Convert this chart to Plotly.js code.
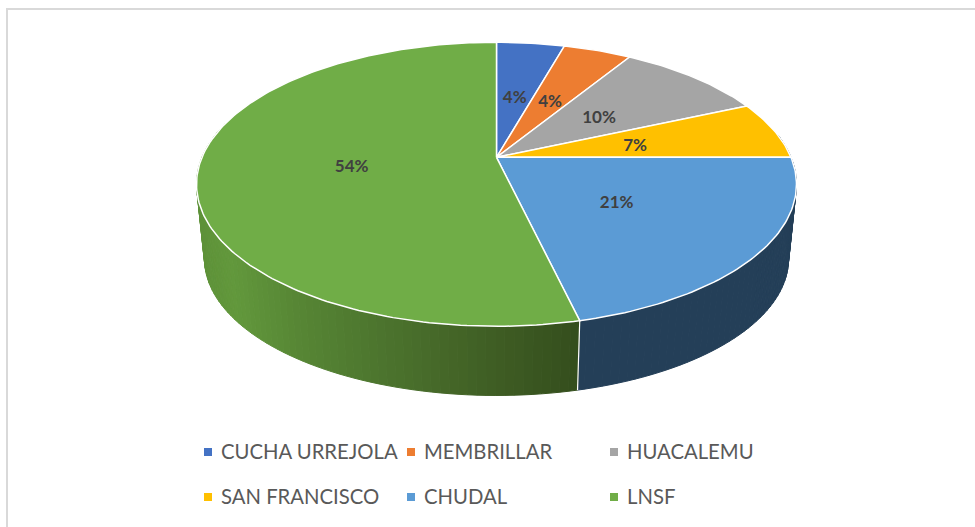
<!DOCTYPE html>
<html><head><meta charset="utf-8">
<script src="https://cdn.plot.ly/plotly-3.0.1.min.js"></script>
<style>html,body{margin:0;padding:0;background:#fff}</style></head>
<body><div id="chart" style="width:975px;height:527px"></div>
<script>
// data
var categories = ["CUCHA URREJOLA","MEMBRILLAR","HUACALEMU","SAN FRANCISCO","CHUDAL","LNSF"];
var percentages = [4.4,4.4,9.6,6.6,21.3,53.7];
var sliceColors = ["#4472c4","#ed7d31","#a5a5a5","#ffc000","#5b9bd5","#70ad47"];
var sideStops = [
  {x:197,c:[94,146,57]},{x:230,c:[98,152,60]},{x:300,c:[86,133,52]},
  {x:400,c:[74,112,44]},{x:500,c:[62,92,35]},{x:579,c:[52,78,29]}
];
var sideBlue = "#243f58";
// layout of the projected pie
var cx=496.5, topY=157.3, k=0.19, A=294.5, B=136.9;
var botY=233, A2=286.7, B2=131.6;
var LABEL_R=0.49, labelDy=2.5;
var legendX=[208,411,614], legendY=[452,497], legendTextOffset=13, legendDy=2;

function proj(theta,r,a,b,y0){
  var t=theta*Math.PI/180, sx=r*Math.sin(t), sy=r*Math.cos(t), d=1+k*sy;
  return [cx+a*sx/d, y0-b*sy/d];
}
function top_(t,r){return proj(t,r===undefined?1:r,A,B,topY);}
function bot_(t){return proj(t,1,A2,B2,botY);}
function sideColor(x){
  for(var i=0;i<sideStops.length-1;i++){
    var p=sideStops[i],q=sideStops[i+1];
    if(x<=q.x){var f=Math.max(0,(x-p.x)/(q.x-p.x));
      return "rgb("+p.c.map(function(v,j){return Math.round(v+(q.c[j]-v)*f)}).join(",")+")";}
  }
  return "rgb("+sideStops[sideStops.length-1].c.join(",")+")";
}
var total=percentages.reduce(function(a,b){return a+b},0);
var edges=[0];percentages.forEach(function(v){edges.push(edges[edges.length-1]+v/total*360)});

var traces=[];
var none={hoverinfo:"skip",showlegend:false};
function poly(xs,ys,color,lw,lc){
  traces.push(Object.assign({type:"scatter",mode:"lines",x:xs,y:ys,fill:"toself",fillcolor:color,
    line:{color:lc||color,width:lw===undefined?1:lw}},none));
}
// side wall
var blueEnd=edges[5], start=80, stop=285, step=1.5;
for(var t=start;t<stop;t+=step){
  var t2=Math.min(t+step,stop);
  if(t<blueEnd&&t2>blueEnd)t2=blueEnd;
  var a=top_(t),b=top_(t2),c=bot_(t2),d=bot_(t);
  var col=t>=blueEnd?sideColor((a[0]+b[0])/2):sideBlue;
  poly([a[0],b[0],c[0],d[0],a[0]],[a[1],b[1],c[1],d[1],a[1]],col);
  if(t2===blueEnd)t=t2-step;
}
// seam between side faces
var s1=top_(blueEnd),s2=bot_(blueEnd);
traces.push(Object.assign({type:"scatter",mode:"lines",x:[s1[0],s2[0]],y:[s1[1],s2[1]],line:{color:"#fff",width:1.2}},none));
// top faces
percentages.forEach(function(v,i){
  var xs=[cx],ys=[topY];
  for(var t=edges[i];t<edges[i+1];t+=1){var p=top_(t);xs.push(p[0]);ys.push(p[1]);}
  var e=top_(edges[i+1]);xs.push(e[0]);ys.push(e[1]);xs.push(cx);ys.push(topY);
  poly(xs,ys,sliceColors[i],1.5,"#ffffff");
});
// percentage labels
traces.push(Object.assign({type:"scatter",mode:"text",
  x:percentages.map(function(v,i){return top_((edges[i]+edges[i+1])/2,LABEL_R)[0]}),
  y:percentages.map(function(v,i){return top_((edges[i]+edges[i+1])/2,LABEL_R)[1]+labelDy}),
  text:percentages.map(function(v){return Math.round(v)+"%"}),
  textposition:"middle center",
  textfont:{family:"Lato, 'Open Sans', sans-serif",size:17,color:"#404040",weight:700}},none));
// legend
categories.forEach(function(name,i){
  var x=legendX[i%3],y=legendY[Math.floor(i/3)];
  traces.push(Object.assign({type:"scatter",mode:"markers",x:[x],y:[y],
    marker:{symbol:"square",size:8,color:sliceColors[i]}},none));
  traces.push(Object.assign({type:"scatter",mode:"text",x:[x+legendTextOffset],y:[y+legendDy],text:[name],
    textposition:"middle right",
    textfont:{family:"Lato, 'Open Sans', sans-serif",size:20.3,color:"#595959"}},none));
});
var layout={width:975,height:527,margin:{l:0,r:0,t:0,b:0},
  paper_bgcolor:"#fff",plot_bgcolor:"#fff",showlegend:false,
  xaxis:{range:[0,975],visible:false,fixedrange:true},
  yaxis:{range:[527,0],visible:false,fixedrange:true},
  shapes:[{type:"rect",xref:"x",yref:"y",x0:7,y0:9,x1:1000,y1:560,line:{color:"#d9d9d9",width:2},layer:"below"}]
};
Plotly.newPlot("chart",traces,layout,{displayModeBar:false,staticPlot:true});
</script></body></html>
